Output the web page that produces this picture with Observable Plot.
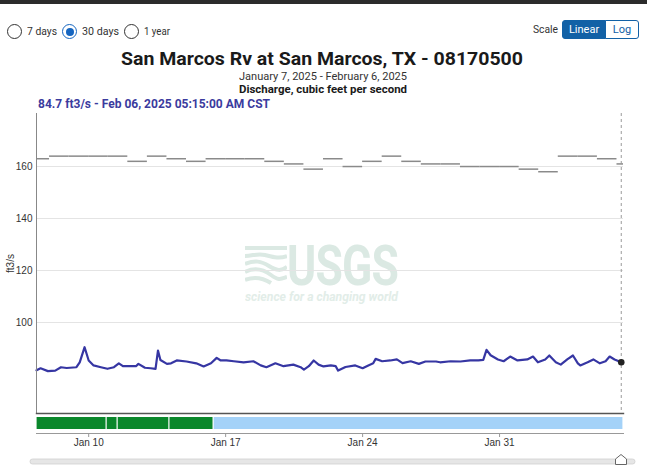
<!DOCTYPE html>
<html>
<head>
<meta charset="utf-8">
<script src="https://cdn.jsdelivr.net/npm/d3@7"></script>
<script src="https://cdn.jsdelivr.net/npm/@observablehq/plot@0.6"></script>
<style>
  html, body { margin: 0; padding: 0; background: #fff; }
  #page { position: relative; width: 647px; height: 465px; overflow: hidden; font-family: Roboto, "Noto Sans", sans-serif; color: #222; }
  .t { position: absolute; white-space: nowrap; line-height: 1; transform-origin: 0 0; }
  .radio { position: absolute; width: 13px; height: 13px; border: 1.3px solid #333; border-radius: 50%; box-sizing: content-box; }
  .radio.on { border-color: #1565c0; }
  .radio.on::after { content: ""; position: absolute; left: 2.5px; top: 2.5px; width: 8px; height: 8px; border-radius: 50%; background: #1565c0; }
  .btn { position: absolute; top: 20px; height: 19px; box-sizing: border-box; font-size: 11px; line-height: 17px; text-align: center; }
  #plotA { position: absolute; left: 0; top: 105px; }
  #plotB { position: absolute; left: 0; top: 413px; }
  #wm { position: absolute; left: 0; top: 0; }
</style>
</head>
<body>
<div id="page">
  <div style="position:absolute;left:0;top:0;width:647px;height:4px;background:#2b2b2b"></div>

  <div class="radio" style="left:7px;top:24px"></div>
  <div class="t" data-w="30" style="left:27px;top:25.5px;font-size:11.5px;color:#333">7 days</div>
  <div class="radio on" style="left:62px;top:24px"></div>
  <div class="t" data-w="37" style="left:82px;top:25.5px;font-size:11.5px;color:#333">30 days</div>
  <div class="radio" style="left:124px;top:24px"></div>
  <div class="t" data-w="26" style="left:144px;top:25.5px;font-size:11.5px;color:#333">1 year</div>

  <div class="t" data-w="25" style="left:533px;top:23.7px;font-size:11px;color:#333">Scale</div>
  <div class="btn" style="left:562px;width:44px;background:#1261a6;color:#fff;border:1px solid #1261a6;border-radius:3px 0 0 3px">Linear</div>
  <div class="btn" style="left:605px;width:34px;background:#fff;color:#1261a6;border:1px solid #1261a6;border-radius:0 3px 3px 0">Log</div>

  <div class="t" data-w="402" style="left:121px;top:50px;font-size:18px;font-weight:700;color:#1a1a1a">San Marcos Rv at San Marcos, TX - 08170500</div>
  <div class="t" data-w="168" style="left:239px;top:71.3px;font-size:11px;color:#333">January 7, 2025 - February 6, 2025</div>
  <div class="t" data-w="168" style="left:239px;top:83.6px;font-size:11px;font-weight:700;color:#1a1a1a">Discharge, cubic feet per second</div>
  <div class="t" data-w="232" style="left:38px;top:98.4px;font-size:12px;font-weight:700;color:#3b3b9e">84.7 ft3/s - Feb 06, 2025 05:15:00 AM CST</div>

  <div id="wm">
    <svg style="position:absolute;left:245px;top:245px" width="42" height="40" viewBox="0 0 42 40">
      <g fill="none" stroke="#dbe9e3" stroke-width="4">
        <path d="M0,3 L42,3"/>
        <path d="M0,11 C8,11 12,8 20,10 S34,14 42,11"/>
        <path d="M0,19 C10,15 16,16 24,21 S36,26 42,22"/>
        <path d="M0,27 C10,22 18,24 26,30 S36,34 42,32"/>
        <path d="M0,35 C10,31 18,33 26,38"/>
      </g>
    </svg>
    <div class="t" data-w="111" style="left:287px;top:245px;font-size:56px;line-height:42px;font-weight:700;color:#dbe9e3;letter-spacing:-1px">USGS</div>
    <div class="t" data-w="153" style="left:245px;top:290px;font-size:13px;font-weight:700;font-style:italic;color:#e2ede8">science for a changing world</div>
  </div>

  <div id="plotA"></div>
  <div id="plotB"></div>

  <svg style="position:absolute;left:0;top:450px" width="647" height="15">
    <rect x="30" y="9" width="605" height="5" rx="2.5" fill="#e6e6e6" stroke="#cfcfcf" stroke-width="0.8"/>
    <path d="M615.5,14.5 L615.5,9 L621,4.5 L626.5,9 L626.5,14.5 Z" fill="#fff" stroke="#666" stroke-width="1"/>
  </svg>
</div>

<script>
// ---- data ----
const flowTimes = [
  "2025-01-07T08:00","2025-01-07T13:00","2025-01-07T22:00","2025-01-08T07:00","2025-01-08T14:00","2025-01-08T21:00",
  "2025-01-09T09:00","2025-01-09T13:00","2025-01-09T19:00","2025-01-10T00:00","2025-01-10T06:00","2025-01-10T15:00",
  "2025-01-10T23:00","2025-01-11T07:00","2025-01-11T13:00","2025-01-11T18:00","2025-01-12T10:00","2025-01-12T13:00",
  "2025-01-12T21:00","2025-01-13T04:00","2025-01-13T10:00","2025-01-13T13:00","2025-01-13T16:00","2025-01-14T00:00",
  "2025-01-14T05:00","2025-01-14T12:00","2025-01-15T00:00","2025-01-15T12:00","2025-01-15T21:00","2025-01-16T06:00",
  "2025-01-16T13:00","2025-01-16T18:00","2025-01-17T01:00","2025-01-17T10:00","2025-01-17T22:00","2025-01-18T10:00",
  "2025-01-18T19:00","2025-01-19T02:00","2025-01-19T13:00","2025-01-19T23:00","2025-01-20T11:00","2025-01-20T20:00",
  "2025-01-21T00:00","2025-01-21T06:00","2025-01-21T12:00","2025-01-21T18:00","2025-01-22T00:00","2025-01-22T09:00",
  "2025-01-22T15:00","2025-01-22T18:00","2025-01-23T03:00","2025-01-23T15:00","2025-01-24T00:00","2025-01-24T07:00",
  "2025-01-24T13:00","2025-01-24T16:00","2025-01-25T00:00","2025-01-25T10:00","2025-01-25T18:00","2025-01-26T01:00",
  "2025-01-26T11:00","2025-01-26T21:00","2025-01-27T05:00","2025-01-27T18:00","2025-01-27T23:00","2025-01-28T12:00",
  "2025-01-29T00:00","2025-01-29T12:00","2025-01-29T22:00","2025-01-30T04:00","2025-01-30T08:00","2025-01-30T13:00",
  "2025-01-30T22:00","2025-01-31T05:00","2025-01-31T13:00","2025-01-31T22:00","2025-02-01T10:00","2025-02-01T17:00",
  "2025-02-01T23:00","2025-02-02T08:00","2025-02-02T13:00","2025-02-02T21:00","2025-02-03T03:00","2025-02-03T11:00",
  "2025-02-03T18:00","2025-02-04T00:00","2025-02-04T03:00","2025-02-04T12:00","2025-02-04T19:00","2025-02-05T03:00",
  "2025-02-05T10:00","2025-02-05T15:00","2025-02-05T21:00","2025-02-06T05:15"
];
const flowValues = [
  81.6,82.4,81.3,81.5,82.8,82.5,
  82.8,84.7,90.5,85.4,83.5,82.8,
  82.2,82.8,84.3,83.2,83.2,84.1,
  82.6,82.4,82.2,89.2,85.6,84.1,
  84.3,85.4,85.0,84.3,83.1,84.3,
  86.4,85.4,85.4,85.1,84.7,85.1,
  83.5,82.8,84.3,83.2,83.8,82.8,
  81.9,83.2,85.4,83.8,83.1,83.5,
  83.2,81.5,82.9,83.5,82.4,83.5,
  84.3,86.0,85.1,85.4,85.8,84.4,
  85.1,84.1,85.0,85.0,84.7,85.1,
  85.0,85.4,85.4,85.6,89.5,87.4,
  85.8,85.1,86.9,85.4,85.8,86.9,
  84.7,85.8,87.3,84.7,83.8,85.8,
  87.3,84.3,83.5,84.7,85.8,84.3,
  85.1,86.9,85.8,84.7
];
// daily median statistic (gray segments)
const medianDays = [
  "2025-01-07","2025-01-08","2025-01-09","2025-01-10","2025-01-11","2025-01-12","2025-01-13","2025-01-14",
  "2025-01-15","2025-01-16","2025-01-17","2025-01-18","2025-01-19","2025-01-20","2025-01-21","2025-01-22",
  "2025-01-23","2025-01-24","2025-01-25","2025-01-26","2025-01-27","2025-01-28","2025-01-29","2025-01-30",
  "2025-01-31","2025-02-01","2025-02-02","2025-02-03","2025-02-04","2025-02-05","2025-02-06"
];
const medianValues = [
  163,164,164,164,164,162,164,163,
  162,163,163,163,162,161,159,163,
  160,162,164,162,161,161,160,160,
  160,159,158,164,164,163,161
];
// approval status strip
const approvalStart  = ["2025-01-07T08:00","2025-01-10T22:00","2025-01-11T11:30","2025-01-14T03:00","2025-01-16T09:15"];
const approvalEnd    = ["2025-01-10T22:00","2025-01-11T11:30","2025-01-14T03:00","2025-01-16T09:15","2025-02-06T08:00"];
const approvalStatus = ["Approved","Approved","Approved","Approved","Provisional"];
const yTicks = [100, 120, 140, 160];
const xTicks = ["2025-01-10","2025-01-17","2025-01-24","2025-01-31"];
const xDomain = ["2025-01-07T08:00","2025-02-06T08:00"];
const yDomain = [65, 180.4];

// ---- build ----
const T = s => new Date(s.length === 10 ? s + "T00:00Z" : s + "Z");
const flow = flowTimes.map((t, i) => ({t: T(t), v: flowValues[i]}));
const med = medianDays.map((d, i) => ({t1: T(d), t2: new Date(+T(d) + 864e5), v: medianValues[i]}));
const appr = approvalStart.map((s, i) => ({t1: T(s), t2: T(approvalEnd[i]), s: approvalStatus[i]}));
const last = flow[flow.length - 1];
const xd = xDomain.map(T);

const common = {width: 647, marginLeft: 36, marginRight: 24,
  style: {fontFamily: "'Liberation Sans', Arial, sans-serif", background: "transparent", color: "#333"}};

const plotA = Plot.plot({
  ...common,
  height: 310, marginTop: 8, marginBottom: 2,
  x: {type: "utc", domain: xd, axis: null},
  y: {domain: yDomain, ticks: yTicks, tickSize: 0, tickPadding: 4, label: "ft3/s", labelAnchor: "center", labelOffset: 30, labelArrow: "none", fontSize: 8.5},
  marks: [
    Plot.ruleY(yTicks, {stroke: "#e4e4e4"}),
    Plot.ruleY(med, {y: "v", x1: "t1", x2: "t2", stroke: "#8a8a8a", strokeWidth: 1.5, clip: true}),
    Plot.ruleX([last], {x: "t", stroke: "#9a9a9a", strokeDasharray: "3,3"}),
    Plot.line(flow, {x: "t", y: "v", stroke: "#3636a3", strokeWidth: 2.2, strokeLinejoin: "round"}),
    Plot.dot([last], {x: "t", y: "v", r: 3.3, fill: "#222"}),
    Plot.frame({anchor: "left", stroke: "#888"}),
    Plot.frame({anchor: "bottom", stroke: "#555", strokeWidth: 1.4})
  ]
});
document.getElementById("plotA").appendChild(plotA);

const plotB = Plot.plot({
  ...common,
  height: 40, marginTop: 4, marginBottom: 20,
  x: {type: "utc", domain: xd, ticks: xTicks.map(T), tickFormat: d3.utcFormat("%b %-d"), tickSize: 4, tickPadding: 1.5, label: null, fontSize: 9.5},
  color: {domain: ["Approved", "Provisional"], range: ["#0a872b", "#a4d2f8"]},
  marks: [
    Plot.rect(appr, {x1: "t1", x2: "t2", fill: "s", insetBottom: 4, insetLeft: 0.6, insetRight: 0.6}),
    Plot.frame({anchor: "bottom", stroke: "#999"})
  ]
});
plotB.querySelectorAll("[aria-label='x-axis tick'] path, [aria-label='x-axis tick'] line").forEach(e => e.setAttribute("stroke", "#999"));
document.getElementById("plotB").appendChild(plotB);

// fit header texts to measured widths
document.querySelectorAll(".t[data-w]").forEach(el => {
  const w = el.getBoundingClientRect().width;
  const target = +el.dataset.w;
  if (w > 0) el.style.transform = `scaleX(${target / w})`;
});
</script>
</body>
</html>
